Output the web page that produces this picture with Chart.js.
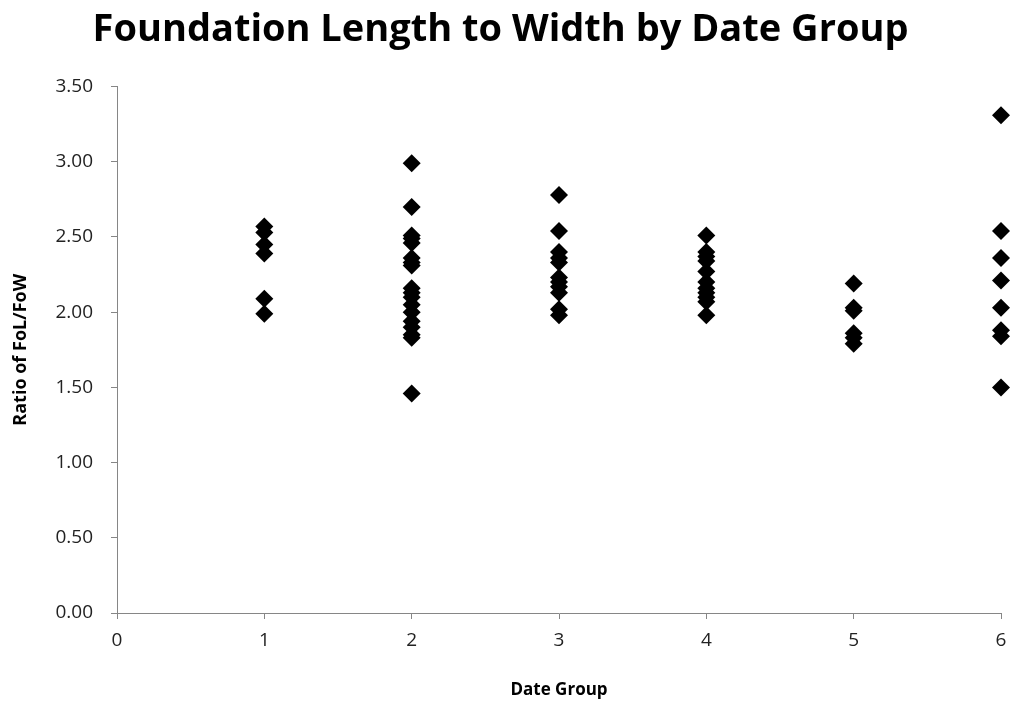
<!DOCTYPE html>
<html>
<head>
<meta charset="utf-8">
<script src="https://cdn.jsdelivr.net/npm/chart.js@4.4.1/dist/chart.umd.min.js"></script>
<style>
  html, body { margin: 0; padding: 0; background: #fff; }
  #wrap { width: 1012px; height: 702px; }
</style>
</head>
<body>
<div id="wrap"><canvas id="myChart" width="1012" height="702"></canvas></div>
<script>
// ratio of foundation length to width, one list per date group
const group1 = [2.57, 2.53, 2.45, 2.39, 2.09, 1.99];
const group2 = [2.99, 2.70, 2.51, 2.49, 2.46, 2.36, 2.33, 2.31, 2.16, 2.13, 2.10, 2.05, 2.00, 1.94, 1.90, 1.85, 1.83, 1.46];
const group3 = [2.78, 2.54, 2.40, 2.36, 2.33, 2.23, 2.20, 2.17, 2.13, 2.02, 1.98];
const group4 = [2.51, 2.40, 2.37, 2.34, 2.27, 2.20, 2.16, 2.13, 2.10, 2.07, 1.98];
const group5 = [2.19, 2.03, 2.01, 1.86, 1.83, 1.79];
const group6 = [3.31, 2.54, 2.36, 2.21, 2.03, 1.88, 1.84, 1.50];
const groups = [group1, group2, group3, group4, group5, group6];
const xTicks = [0, 1, 2, 3, 4, 5, 6];
const yTicks = [0, 0.5, 1, 1.5, 2, 2.5, 3, 3.5];

var points = [];
groups.forEach(function (vals, i) {
    vals.forEach(function (v) {
        points.push({ x: i + 1, y: v });
    });
});

const axisGrey = '#868686';
const font = 'Open Sans';

const config = {
    type: 'scatter',
    data: {
        datasets: [{
            label: 'Ratio of FoL/FoW',
            data: points,
            pointStyle: 'rectRot',
            pointRadius: 9,
            pointHoverRadius: 9,
            backgroundColor: '#000',
            borderColor: '#000',
            borderWidth: 0,
            clip: false
        }]
    },
    options: {
        responsive: false,
        animation: false,
        layout: { padding: { top: 0, right: 11, bottom: 0, left: 0 } },
        plugins: {
            legend: { display: false },
            tooltip: { enabled: false },
            title: {
                display: true,
                text: 'Foundation Length to Width by Date Group',
                color: '#000',
                font: { family: font, size: 38, weight: 'bold' },
                padding: { top: 7, bottom: 34 }
            }
        },
        scales: {
            x: {
                type: 'linear',
                min: 0,
                max: 6,
                afterBuildTicks: function (scale) {
                    scale.ticks = xTicks.map(function (v) { return { value: v }; });
                },
                afterFit: function (scale) {
                    scale.height = 89;
                    scale.paddingRight = 0;
                },
                grid: { drawOnChartArea: false, drawTicks: true, tickLength: 6, color: axisGrey },
                border: { color: axisGrey },
                ticks: { color: '#222', font: { family: font, size: 19 }, padding: 10 },
                title: {
                    display: true,
                    text: 'Date Group',
                    color: '#000',
                    font: { family: font, size: 17, weight: 'bold' },
                    padding: { top: 0, bottom: 2 }
                }
            },
            y: {
                min: 0,
                max: 3.5,
                afterBuildTicks: function (scale) {
                    scale.ticks = yTicks.map(function (v) { return { value: v }; });
                },
                afterFit: function (scale) { scale.width = 117; },
                grid: { drawOnChartArea: false, drawTicks: true, tickLength: 6, color: axisGrey },
                border: { color: axisGrey },
                ticks: {
                    color: '#222',
                    font: { family: font, size: 19 },
                    padding: 18,
                    callback: function (v) { return Number(v).toFixed(2); }
                },
                title: {
                    display: true,
                    text: 'Ratio of FoL/FoW',
                    color: '#000',
                    font: { family: font, size: 18, weight: 'bold' },
                    padding: { top: 10, bottom: 0 }
                }
            }
        }
    }
};

const chart = new Chart(document.getElementById('myChart'), config);
</script>
</body>
</html>
